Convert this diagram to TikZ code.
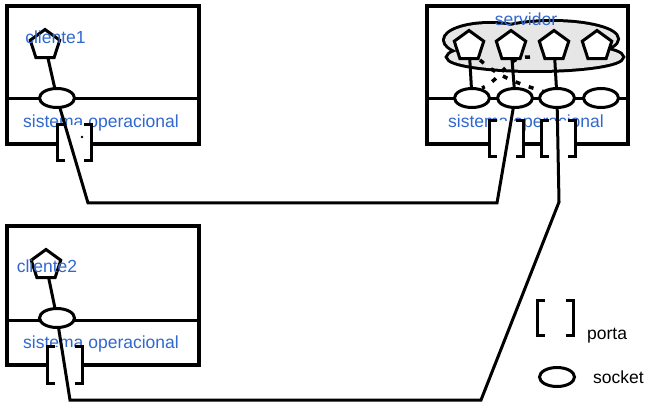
\documentclass[tikz,border=0pt]{standalone}
\usepackage{fontspec}
\setmainfont{Liberation Sans}
\usetikzlibrary{shapes.geometric}
\pgfdeclarelayer{base}\pgfdeclarelayer{wires}\pgfdeclarelayer{top}
\pgfsetlayers{base,wires,main,top}
\definecolor{lblue}{RGB}{48,104,208}
\definecolor{cloudgray}{RGB}{230,230,230}
\tikzset{
 sysbox/.style={draw, line width=3.3pt, rectangle, inner sep=0pt, fill=white},
 divline/.style={line width=3pt},
 sock/.style={ellipse, draw, line width=3pt, fill=white, minimum width=35pt, minimum height=19pt, inner sep=0pt},
 pent/.style={regular polygon, regular polygon sides=5, draw, line width=3pt, fill=white, minimum size=31pt, inner sep=0pt},
 portbox/.style={rectangle, fill=white, minimum width=33pt, minimum height=35pt, inner sep=0pt},
 brk/.style={line width=3pt},
 wire/.style={line width=3pt, line join=miter},
 thr/.style={line width=3.5pt, dash pattern=on 5pt off 9pt},
 lbl/.style={text=lblue, font=\fontsize{17.5}{20}\selectfont, inner sep=0pt, anchor=base},
 leg/.style={font=\fontsize{17.5}{20}\selectfont, inner sep=0pt, anchor=base west},
}
\begin{document}
\begin{tikzpicture}[x=1pt,y=-1pt]
\useasboundingbox (0,0) rectangle (652,403);
% ---------- base layer: boxes, cloud, texts, ports
\begin{pgfonlayer}{base}
\node[sysbox, minimum width=192pt, minimum height=138pt] (c1box) at (103,75) {};
\node[sysbox, minimum width=201pt, minimum height=138pt] (sbox) at (527.5,75) {};
\node[sysbox, minimum width=192pt, minimum height=139pt] (c2box) at (103,295.5) {};
\draw[divline] (7,99) -- (199,99);
\draw[divline] (427,99) -- (628,99);
\draw[divline] (7,320) -- (199,320);
% cloud
\foreach \c/\rx/\ry in {{(490,40)}/45/16, {(552,39)}/65/17, {(535,57)}/87/13}
  \draw[line width=6pt] \c ellipse [x radius=\rx, y radius=\ry];
\foreach \c/\rx/\ry in {{(490,40)}/45/16, {(552,39)}/65/17, {(535,57)}/87/13}
  \fill[cloudgray] \c ellipse [x radius=\rx, y radius=\ry];
\node[lbl] (tserv) at (526,26) {servidor};
\node[lbl] (tso1) at (101,128) {sistema operacional};
\node[lbl] (tso2) at (101,348) {sistema operacional};
\node[lbl] (tso3) at (526,128) {sistema operacional};
% ports
\node[portbox] (c1port) at (74.5,142.5) {};
\node[portbox, minimum width=34pt, minimum height=36pt] (c2port) at (65,365) {};
\node[portbox] (sport1) at (506.5,138.5) {};
\node[portbox] (sport2) at (558.5,138.5) {};
\node[portbox, minimum width=35pt, minimum height=34pt] (legport) at (555.5,318) {};
\foreach \p in {c1port,c2port,sport1,sport2,legport}{
  \draw[brk] ([xshift=7pt]\p.north west) -- (\p.north west) -- (\p.south west) -- ([xshift=7pt]\p.south west);
  \draw[brk] ([xshift=-7pt]\p.north east) -- (\p.north east) -- (\p.south east) -- ([xshift=-7pt]\p.south east);
}
\fill (82,137) circle (1.4pt);
\end{pgfonlayer}
% ---------- main layer: sockets and threads
\node[sock] (c1sock) at (57,98) {};
\node[sock] (c2sock) at (57,318) {};
\node[sock] (ss1) at (472,98) {};
\node[sock] (ss2) at (515,98) {};
\node[sock] (ss3) at (557,98) {};
\node[sock] (ss4) at (601,98) {};
\node[sock] (legsock) at (557,377) {};
\node[pent] (c1pent) at (45,45) {};
\node[pent] (c2pent) at (46,265) {};
\node[pent] (sp1) at (469,46) {};
\node[pent] (sp2) at (511,46) {};
\node[pent] (sp3) at (554,46) {};
\node[pent] (sp4) at (597,46) {};
% ---------- wires
\begin{pgfonlayer}{wires}
\coordinate (k1) at (88,203);
\coordinate (k2) at (497,203);
\coordinate (k3) at (559,202);
\coordinate (k4) at (481,400);
\coordinate (k5) at (70,400);
\draw[wire] (c1pent.center) -- (c1sock.center) -- (k1) -- (k2) -- (ss2.center);
\draw[wire] (ss3.center) -- (k3) -- (k4) -- (k5) -- (c2sock.center) -- (c2pent.center);
\draw[wire] (sp1.center) -- (ss1.center);
\draw[wire] (sp2.center) -- (ss2.center);
\draw[wire] (sp3.center) -- (ss3.center);
\coordinate (d1a) at (480,60);
\coordinate (d1b) at (545,92);
\coordinate (d2a) at (530,57);
\coordinate (d2b) at (482,88);
\draw[thr] (d1a) .. controls (500,78) and (520,84) .. (d1b);
\draw[thr] (d2a) .. controls (505,56) and (502,80) .. (d2b);
\end{pgfonlayer}
% ---------- top layer: client labels, legend text
\begin{pgfonlayer}{top}
\node[lbl] (tc1) at (55.5,44) {cliente1};
\node[lbl] (tc2) at (47,272) {cliente2};
\node[leg] (tporta) at (587,339) {porta};
\node[leg] (tsocket) at (593,383) {socket};
\end{pgfonlayer}
\end{tikzpicture}
\end{document}
